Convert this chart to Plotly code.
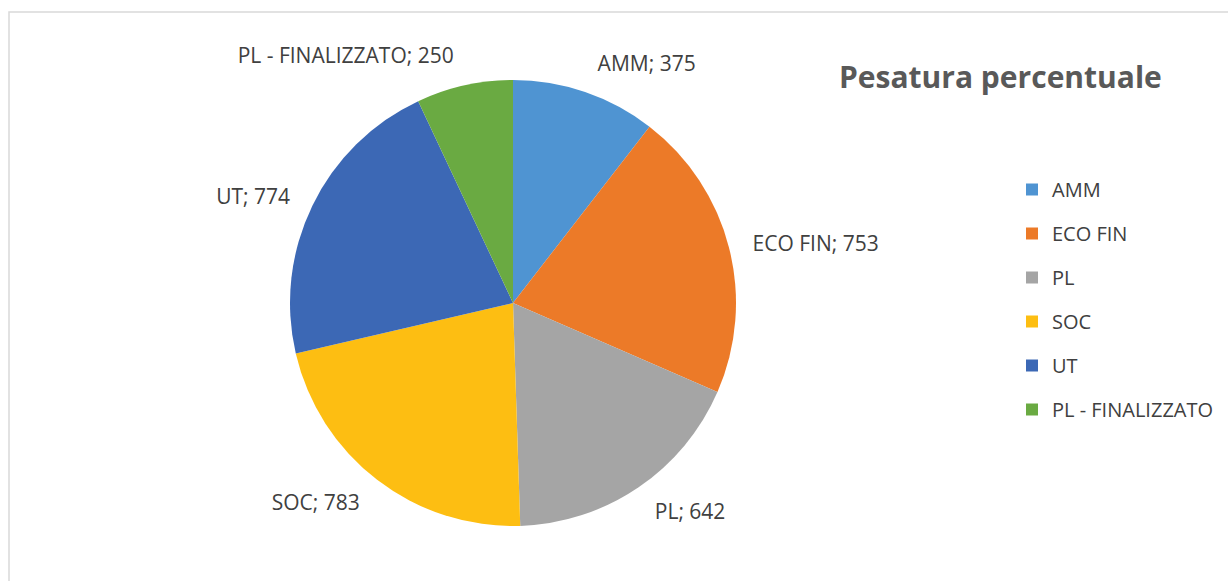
import plotly.graph_objects as go

categories = ["AMM", "ECO FIN", "PL", "SOC", "UT", "PL - FINALIZZATO"]
values = [375, 753, 642, 783, 774, 250]
colors = ["#4F94D2", "#EC7A28", "#A5A5A5", "#FDBE12", "#3C68B5", "#6AAA42"]

W, H = 1228, 581
cx, cy, r = 513, 303, 223
lab_r = r + 17  # radius of the (invisible) pie that carries the outside labels


def dom(rad):
    return dict(x=[(cx - rad) / W, (cx + rad) / W],
                y=[(H - cy - rad) / H, (H - cy + rad) / H])


fig = go.Figure()
# visible pie
fig.add_trace(go.Pie(
    labels=categories, values=values, sort=False,
    direction="clockwise", rotation=0,
    marker=dict(colors=colors, line=dict(color="white", width=0)),
    textinfo="none", showlegend=False,
    hoverinfo="label+value+percent",
    domain=dom(r),
))
# transparent pie only used to place the data labels a bit further out
fig.add_trace(go.Pie(
    labels=categories, values=values, sort=False,
    direction="clockwise", rotation=0,
    marker=dict(colors=["rgba(0,0,0,0)"] * len(values), line=dict(width=0)),
    texttemplate="%{label}; %{value}",
    textposition="outside",
    outsidetextfont=dict(family="Open Sans", size=21, color="#404040"),
    showlegend=False, hoverinfo="skip",
    domain=dom(lab_r),
))

for c, col in zip(categories, colors):
    fig.add_trace(go.Scatter(
        x=[None], y=[None], mode="markers", name=c,
        marker=dict(symbol="square", size=12, color=col),
        legendgroup=c, showlegend=True,
    ))

fig.update_layout(
    width=W, height=H,
    margin=dict(l=0, r=0, t=0, b=0),
    paper_bgcolor="white", plot_bgcolor="white",
    xaxis=dict(visible=False), yaxis=dict(visible=False),
    font=dict(family="Open Sans", color="#404040"),
    legend=dict(
        x=1012 / W, y=1 - 170 / H, xanchor="left", yanchor="top",
        font=dict(family="Open Sans", size=20, color="#404040"),
        tracegroupgap=15, itemwidth=30,
        bgcolor="rgba(0,0,0,0)",
    ),
    annotations=[dict(
        text="<b>Pesatura percentuale</b>", x=1000 / W, y=1 - 77 / H,
        xref="paper", yref="paper", xanchor="center", yanchor="middle",
        showarrow=False, font=dict(family="Open Sans", size=30, color="#595959"),
    )],
    shapes=[dict(type="rect", xref="paper", yref="paper",
                 x0=9 / W, x1=1.01, y0=-0.01, y1=1 - 12 / H,
                 line=dict(color="#D9D9D9", width=1.5))],
)

fig.write_html("out.html", config={"displayModeBar": False},
               post_script="document.body.style.margin='0';")
